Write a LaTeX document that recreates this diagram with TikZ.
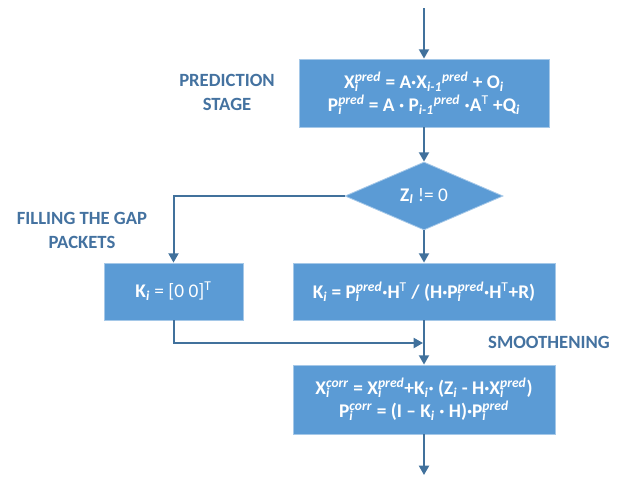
\documentclass[tikz,border=0pt]{standalone}
\usepackage{fontspec}
\setmainfont{Carlito}
\usetikzlibrary{arrows.meta, shapes.geometric, positioning}
\definecolor{boxcol}{RGB}{91,155,213}
\definecolor{arrcol}{RGB}{65,113,156}
\definecolor{labcol}{RGB}{68,114,160}
% stacked index and superscript
\newcommand{\sbp}[2]{\rlap{\textsubscript{\textit{#1}}}\textsuperscript{\textit{#2}}}
\newcommand{\idx}[1]{\textsubscript{\textit{#1}}}
\newcommand{\tp}{\textsuperscript{\mdseries T}}

\begin{document}
\begin{tikzpicture}[x=0.75pt, y=-0.75pt,
  stage/.style={rectangle, fill=boxcol, draw=boxcol!55!white, line width=0.6pt,
                text=white, font=\fontsize{14.5}{17.5}\selectfont\bfseries,
                align=center, inner sep=0pt},
  test/.style={diamond, fill=boxcol, draw=boxcol!55!white, line width=0.6pt,
               text=white, font=\fontsize{14.5}{17.5}\selectfont,
               inner sep=0pt, minimum width=118.5pt, minimum height=51pt},
  arrow/.style={-{Triangle[length=7pt,width=7.5pt]}, line width=1.5pt, draw=arrcol},
  note/.style={text=labcol, font=\fontsize{14}{18}\selectfont\bfseries, align=center}
]
\useasboundingbox (0,0) rectangle (635,476);

% Stage boxes
\node[stage, minimum width=187.5pt, minimum height=51pt]
      (pred) at (424,93)
      {X\sbp{i}{pred} = A·X\idx{i-1}\textsuperscript{\textit{pred}} + O\idx{i}\\
       P\sbp{i}{pred} = A · P\idx{i-1}\textsuperscript{\textit{pred}} ·A\tp{} +Q\idx{i}};

\node[test] (cond) at (424,196) {\textbf{Z}\idx{\bfseries I} != 0};

\node[stage, minimum width=196.5pt, minimum height=42.75pt]
      (gain) at (424,291.5)
      {K\idx{i} = P\sbp{i}{pred}·H\tp{} / (H·P\sbp{i}{pred}·H\tp{}+R)};

\node[stage, minimum width=104.25pt, minimum height=42.75pt]
      (zero) at (173.5,291.5)
      {K\idx{i} {\mdseries = [0 0]}\tp};

\node[stage, minimum width=196.5pt, minimum height=51.75pt]
      (corr) at (424,399.5)
      {X\sbp{i}{corr} = X\sbp{i}{pred}+K\idx{i}· (Z\idx{i} - H·X\sbp{i}{pred})\\
       P\sbp{i}{corr} = (I – K\idx{i} · H)·P\sbp{i}{pred}};

% Labels
\node[note] (lpred) at (227,92) {PREDICTION\\STAGE};
\node[note] (lfill) at (82,230) {FILLING THE GAP\\PACKETS};
\node[note] (lsmooth) at (549,342) {SMOOTHENING};

% Arrows
\coordinate (in) at (424,8);
\coordinate (out) at (424,475);
\coordinate (merge) at (423,343);
\draw[arrow] (in) -- (pred);
\foreach \a/\b in {pred/cond, cond/gain, gain/corr}
  \draw[arrow] (\a) -- (\b);
\draw[arrow] (cond.west) -| (zero.north);
\draw[arrow] (zero.south) |- (merge);
\draw[arrow] (corr) -- (out);

\end{tikzpicture}
\end{document}
